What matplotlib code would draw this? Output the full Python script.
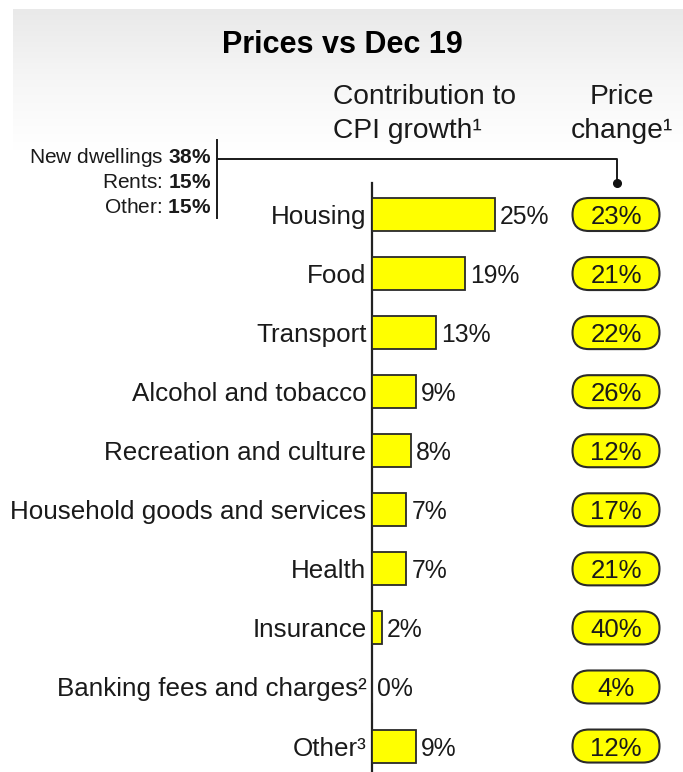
import matplotlib
matplotlib.use("Agg")
import matplotlib.pyplot as plt
import numpy as np
from matplotlib.patches import FancyBboxPatch
from matplotlib.lines import Line2D
from matplotlib.colors import LinearSegmentedColormap

# ---- data -------------------------------------------------------------
categories = [
    "Housing",
    "Food",
    "Transport",
    "Alcohol and tobacco",
    "Recreation and culture",
    "Household goods and services",
    "Health",
    "Insurance",
    "Banking fees and charges\u00b2",
    "Other\u00b3",
]
contribution = [25, 19, 13, 9, 8, 7, 7, 2, 0, 9]      # contribution to CPI growth, %
price_change = [23, 21, 22, 26, 12, 17, 21, 40, 4, 12]  # price change since Dec 19, %
housing_parts = ["New dwellings", "Rents:", "Other:"]
housing_shares = [38, 15, 15]

# ---- style ------------------------------------------------------------
W, H, DPI = 683, 772, 100
TEXT = "#1a1a1a"
EDGE = "#2a2a2a"
YELLOW = "#ffff00"

plt.rcParams["font.family"] = ["Liberation Sans", "DejaVu Sans"]
plt.rcParams["mathtext.fontset"] = "custom"
plt.rcParams["mathtext.rm"] = "Liberation Sans"
plt.rcParams["mathtext.bf"] = "Liberation Sans:bold"

fig = plt.figure(figsize=(W / DPI, H / DPI), dpi=DPI, facecolor="white")


def fx(px):
    return px / W


def fy(py):
    return 1 - py / H


# soft grey header band
bg = fig.add_axes([fx(13), fy(150), 1 - fx(13), (150 - 9) / H], zorder=0)
band = LinearSegmentedColormap.from_list("band", ["#e9e9e9", "#f6f6f6", "#ffffff"])
bg.imshow(np.linspace(0, 1, 256)[:, None], aspect="auto", cmap=band,
          extent=[0, 1, 0, 1])
bg.axis("off")

# ---- bar panel --------------------------------------------------------
PX_PER_PCT = 4.9      # horizontal scale of the bars
ROW_PX = 59.06        # row pitch
FIRST_ROW_PX = 214.5  # centre of the first row
AX_LEFT, AX_TOP, AX_BOTTOM = 372, 183, 772

ax = fig.add_axes([fx(AX_LEFT), fy(AX_BOTTOM), 1 - fx(AX_LEFT),
                   (AX_BOTTOM - AX_TOP) / H], zorder=2)
ax.patch.set_alpha(0)
ax.set_xlim(0, (W - AX_LEFT) / PX_PER_PCT)
ax.set_ylim((AX_BOTTOM - FIRST_ROW_PX) / ROW_PX, -(FIRST_ROW_PX - AX_TOP) / ROW_PX)

pos = np.arange(len(categories))
bar_h = 33 / ROW_PX
ax.barh(pos, contribution, height=bar_h, color=YELLOW, edgecolor=EDGE,
        linewidth=1.3, zorder=3)

for s in ("top", "right", "bottom"):
    ax.spines[s].set_visible(False)
ax.spines["left"].set_color("#222222")
ax.spines["left"].set_linewidth(1.6)
ax.set_xticks([])
ax.set_yticks(pos, categories)
ax.tick_params(axis="y", length=0, pad=4, labelsize=18.7, labelcolor=TEXT)

for i, v in enumerate(contribution):
    ax.annotate(f"{v}%", (v, i), xytext=(5, 0), textcoords="offset pixels",
                ha="left", va="center_baseline", fontsize=17.8, color=TEXT)

# price-change pills
pill_cx = (616 - AX_LEFT) / PX_PER_PCT
pill_w = 87 / PX_PER_PCT
pill_h = 33 / ROW_PX
pill_r = 16.5 / PX_PER_PCT
for i, v in enumerate(price_change):
    pill = FancyBboxPatch((pill_cx - pill_w / 2, i - pill_h / 2), pill_w, pill_h,
                          boxstyle=f"round,pad=0,rounding_size={pill_r}",
                          mutation_aspect=PX_PER_PCT / ROW_PX,
                          facecolor=YELLOW, edgecolor=EDGE, linewidth=1.5,
                          clip_on=False, zorder=3)
    ax.add_patch(pill)
    ax.text(pill_cx, i, f"{v}%", ha="center", va="center_baseline",
            fontsize=18.5, color=TEXT, zorder=4)

# ---- titles -----------------------------------------------------------
fig.text(fx(342), fy(53), "Prices vs Dec 19", ha="center", va="baseline",
         fontsize=22, fontweight="bold", color="#000000")
fig.text(fx(333), fy(104), "Contribution to", ha="left", va="baseline",
         fontsize=20.3, color=TEXT)
fig.text(fx(333), fy(138), "CPI growth\u00b9", ha="left", va="baseline",
         fontsize=20.3, color=TEXT)
fig.text(fx(622), fy(104), "Price", ha="center", va="baseline",
         fontsize=20.3, color=TEXT)
fig.text(fx(622), fy(138), "change\u00b9", ha="center", va="baseline",
         fontsize=20.3, color=TEXT)

# ---- housing breakdown callout ---------------------------------------
for k, (name, share) in enumerate(zip(housing_parts, housing_shares)):
    fig.text(fx(211), fy(163 + 25 * k), rf"{name} $\mathbf{{{share}\%}}$",
             ha="right", va="baseline", fontsize=15, color=TEXT)

line_kw = dict(color="#1a1a1a", linewidth=1.4, transform=fig.transFigure)
fig.add_artist(Line2D([fx(217), fx(217)], [fy(140), fy(218)], **line_kw))
fig.add_artist(Line2D([fx(217), fx(617), fx(617)], [fy(159), fy(159), fy(183)],
                      **line_kw))
fig.add_artist(Line2D([fx(617)], [fy(183)], marker="o", markersize=5.5,
                      color="#111111", transform=fig.transFigure))

fig.savefig("out.png", dpi=DPI, facecolor="white")
